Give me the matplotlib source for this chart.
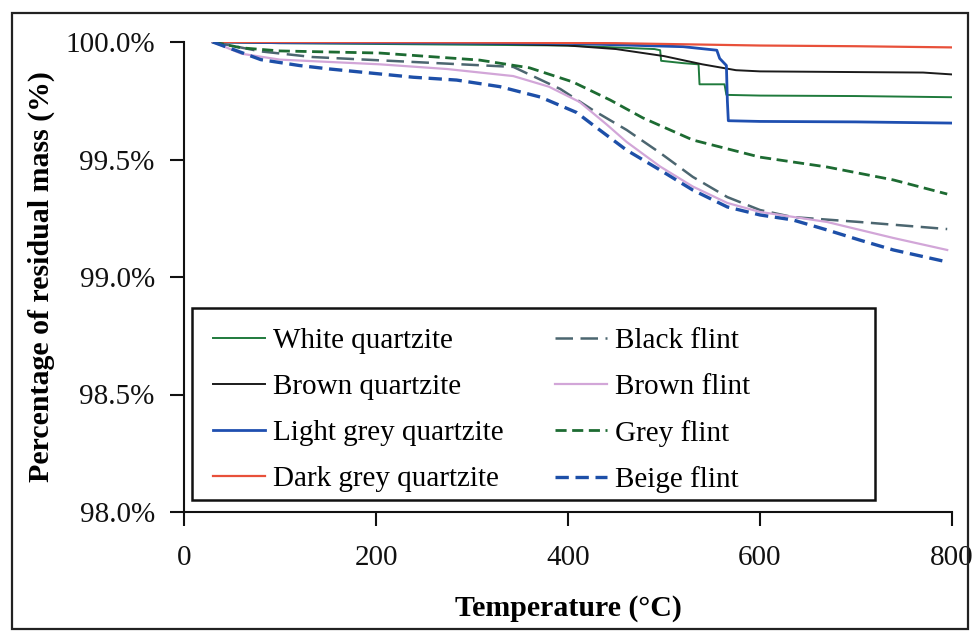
import matplotlib
matplotlib.use("Agg")
import matplotlib.pyplot as plt
from matplotlib.patches import Rectangle
from matplotlib.ticker import FuncFormatter

plt.rcParams["font.family"] = ["Liberation Serif", "DejaVu Serif"]

# temperature (degC) / residual mass (%)
white_qz_t = [30, 100, 250, 400, 490, 496, 497, 520, 536, 537, 563, 565, 600, 700, 800]
white_qz_m = [100.0, 99.995, 99.99, 99.985, 99.97, 99.965, 99.92, 99.91, 99.905, 99.82, 99.82, 99.775, 99.772, 99.77, 99.765]

brown_qz_t = [30, 150, 300, 400, 450, 500, 540, 575, 600, 700, 770, 800]
brown_qz_m = [100.0, 99.998, 99.995, 99.985, 99.97, 99.94, 99.905, 99.88, 99.875, 99.872, 99.87, 99.862]

lgrey_qz_t = [30, 100, 250, 400, 520, 555, 558, 565, 566, 567, 600, 700, 800]
lgrey_qz_m = [100.0, 99.997, 99.996, 99.994, 99.98, 99.965, 99.93, 99.9, 99.75, 99.665, 99.662, 99.66, 99.655]

dgrey_qz_t = [30, 80, 250, 450, 600, 700, 800]
dgrey_qz_m = [100.0, 100.0, 99.999, 99.995, 99.985, 99.982, 99.977]

black_fl_t = [30, 80, 134, 239, 343, 392, 426, 461, 496, 530, 566, 600, 634, 704, 795]
black_fl_m = [100.0, 99.96, 99.936, 99.915, 99.894, 99.8, 99.71, 99.626, 99.528, 99.426, 99.34, 99.285, 99.255, 99.234, 99.204]

brown_fl_t = [30, 60, 100, 204, 274, 343, 380, 412, 440, 461, 496, 530, 566, 600, 670, 739, 795]
brown_fl_m = [100.0, 99.95, 99.925, 99.905, 99.885, 99.855, 99.81, 99.745, 99.65, 99.575, 99.47, 99.385, 99.315, 99.277, 99.234, 99.166, 99.115]

grey_fl_t = [30, 60, 100, 204, 308, 360, 405, 444, 478, 530, 600, 670, 739, 795]
grey_fl_m = [100.0, 99.975, 99.962, 99.953, 99.923, 99.89, 99.83, 99.753, 99.677, 99.583, 99.51, 99.468, 99.413, 99.353]

beige_fl_t = [30, 50, 80, 120, 152, 239, 284, 329, 371, 409, 426, 461, 496, 530, 566, 600, 634, 670, 704, 739, 795]
beige_fl_m = [100.0, 99.97, 99.925, 99.9, 99.885, 99.85, 99.838, 99.81, 99.766, 99.7, 99.647, 99.54, 99.455, 99.37, 99.298, 99.264, 99.243, 99.2, 99.157, 99.115, 99.064]

fig = plt.figure(figsize=(9.73, 6.37), dpi=100)
ax = fig.add_axes([184 / 973, 125 / 637, 768 / 973, 470 / 637])

ax.plot(white_qz_t, white_qz_m, color="#1f7a3c", lw=1.4, label="White quartzite")
ax.plot(brown_qz_t, brown_qz_m, color="#1b1b1b", lw=1.4, label="Brown quartzite")
ax.plot(lgrey_qz_t, lgrey_qz_m, color="#1f4fb0", lw=2.0, label="Light grey quartzite")
ax.plot(dgrey_qz_t, dgrey_qz_m, color="#e8503a", lw=1.6, label="Dark grey quartzite")
ax.plot(black_fl_t, black_fl_m, color="#4c6670", lw=1.8, dashes=(7, 3), label="Black flint")
ax.plot(brown_fl_t, brown_fl_m, color="#d2a6d8", lw=1.6, label="Brown flint")
ax.plot(grey_fl_t, grey_fl_m, color="#1d6b32", lw=2.0, dashes=(4, 2), label="Grey flint")
ax.plot(beige_fl_t, beige_fl_m, color="#1d4fa8", lw=2.4, dashes=(4, 2), label="Beige flint")

ax.set_xlim(0, 800)
ax.set_ylim(98.0, 100.0)
ax.set_xticks([0, 200, 400, 600, 800])
ax.set_yticks([98.0, 98.5, 99.0, 99.5, 100.0])
ax.yaxis.set_major_formatter(FuncFormatter(lambda v, _: f"{v:.1f}%"))
ax.spines["top"].set_visible(False)
ax.spines["right"].set_visible(False)
for s in ("left", "bottom"):
    ax.spines[s].set_linewidth(1.5)
    ax.spines[s].set_color("#111111")
ax.tick_params(axis="y", direction="out", length=10, width=1.5, pad=11,
               labelsize=21, colors="#111111")
ax.tick_params(axis="x", direction="out", length=10, width=1.5, pad=14,
               labelsize=21, colors="#111111")
ax.set_xlabel("Temperature (\u00b0C)", fontsize=21.5, fontweight="bold", labelpad=17)
ax.set_ylabel("Percentage of residual mass (%)", fontsize=21.5, fontweight="bold", labelpad=7)

# legend entries without their own frame; the box is drawn separately so it
# can be wider than the entries, as in the original
leg = ax.legend(loc="upper left", bbox_to_anchor=(0.0378, 0.392), ncol=2,
                fontsize=21, frameon=False, handlelength=1.78,
                handletextpad=0.27, labelspacing=0.67, columnspacing=1.78,
                borderaxespad=0, borderpad=0)
ax.add_patch(Rectangle((0.0104, 0.0255), 0.8893, 0.4085, transform=ax.transAxes,
                       fill=False, edgecolor="#111111", linewidth=1.8, zorder=5))

fig.patches.append(Rectangle((12 / 973, 8 / 637), 956 / 973, 616 / 637,
                             transform=fig.transFigure, fill=False,
                             edgecolor="#222222", linewidth=1.6))

fig.savefig("out.png", dpi=100)
